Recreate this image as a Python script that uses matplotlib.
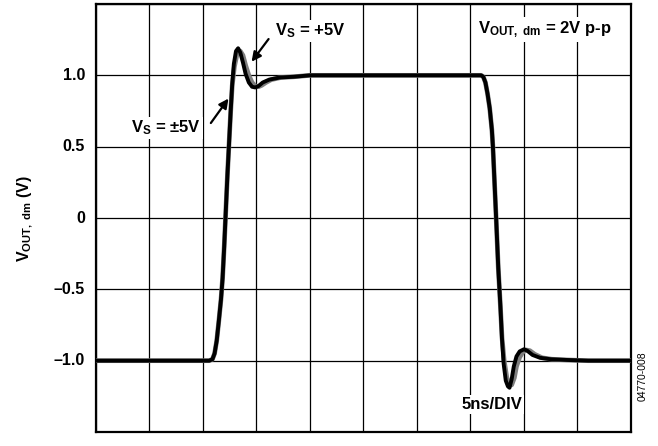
import matplotlib
matplotlib.use("Agg")
import matplotlib.pyplot as plt

# =======================
# dados (tempo em ns, 5 ns/div)
# =======================
t_preto = [0, 5, 10.6, 10.9, 11.1, 11.3, 11.5, 11.7, 11.85, 12.0, 12.15, 12.3, 12.45, 12.6,
           12.75, 12.9, 13.1, 13.3, 13.5, 13.75, 14.0, 14.3, 14.6, 14.9, 15.2, 15.6, 16.2,
           17.2, 18.5, 20, 25, 30, 36.0, 36.2, 36.4, 36.6, 36.8, 37.0, 37.1, 37.25, 37.4,
           37.6, 37.8, 37.95, 38.1, 38.3, 38.5, 38.65, 38.85, 39.05, 39.3, 39.6, 40.0, 40.3,
           40.8, 41.5, 42.5, 44, 46, 50]
v_preto = [-1.0, -1.0, -1.0, -0.99, -0.95, -0.86, -0.72, -0.57, -0.42, -0.2, 0.05, 0.3, 0.52,
           0.74, 0.94, 1.08, 1.17, 1.19, 1.16, 1.09, 1.01, 0.95, 0.92, 0.915, 0.925, 0.95,
           0.97, 0.985, 0.99, 1.0, 1.0, 1.0, 1.0, 0.99, 0.95, 0.87, 0.77, 0.62, 0.5, 0.25,
           0.0, -0.35, -0.62, -0.85, -1.02, -1.14, -1.18, -1.19, -1.13, -1.04, -0.97, -0.935,
           -0.92, -0.93, -0.96, -0.98, -0.99, -0.995, -1.0, -1.0]

t_cinza = [0, 5, 10.6, 10.9, 11.1, 11.3, 11.5, 11.7, 11.85, 12.0, 12.15, 12.3, 12.45, 12.6,
           12.75, 12.95, 13.2, 13.5, 13.75, 14.0, 14.3, 14.6, 14.9, 15.2, 15.5, 15.9, 16.4,
           17.3, 18.5, 20, 25, 30, 36.0, 36.2, 36.4, 36.6, 36.8, 37.0, 37.1, 37.25, 37.4,
           37.6, 37.8, 37.95, 38.15, 38.4, 38.65, 38.85, 39.1, 39.3, 39.6, 39.9, 40.2, 40.55,
           41.0, 41.7, 42.6, 44, 46, 50]
v_cinza = [-1.0, -1.0, -1.0, -0.99, -0.95, -0.86, -0.72, -0.57, -0.42, -0.2, 0.05, 0.3, 0.52,
           0.74, 0.93, 1.06, 1.15, 1.17, 1.14, 1.07, 1.0, 0.95, 0.925, 0.92, 0.93, 0.95,
           0.97, 0.985, 0.99, 1.0, 1.0, 1.0, 1.0, 0.99, 0.95, 0.87, 0.77, 0.62, 0.5, 0.25,
           0.0, -0.35, -0.62, -0.84, -1.0, -1.12, -1.16, -1.17, -1.12, -1.04, -0.975, -0.94,
           -0.925, -0.93, -0.955, -0.98, -0.99, -0.995, -1.0, -1.0]

y_ticks = [-1.0, -0.5, 0, 0.5, 1.0]
y_labels = ["\u20131.0", "\u20130.5", "0", "0.5", "1.0"]

# =======================
# fontes
# =======================
plt.rcParams['font.family'] = ['Liberation Sans', 'DejaVu Sans']
plt.rcParams['font.weight'] = 'bold'
plt.rcParams['mathtext.fontset'] = 'custom'
plt.rcParams['mathtext.rm'] = 'Liberation Sans:bold'
plt.rcParams['mathtext.it'] = 'Liberation Sans:bold:italic'
plt.rcParams['mathtext.bf'] = 'Liberation Sans:bold'

fig = plt.figure(figsize=(6.58, 4.46), dpi=100)
ax = fig.add_axes([0.1455, 0.0314, 0.8135, 0.9596])

ax.set_xlim(0, 50)
ax.set_ylim(-1.5, 1.5)
ax.set_xticks([i * 5 for i in range(11)])
ax.set_yticks([-1.5 + 0.5 * i for i in range(7)])
ax.grid(True, color='black', linewidth=0.9)
ax.tick_params(length=0, labelbottom=False, labelleft=False)
for s in ax.spines.values():
    s.set_linewidth(1.6)

ax.plot(t_cinza, v_cinza, color='#7f7f7f', linewidth=3.4, solid_capstyle='round',
        solid_joinstyle='round', zorder=3)
ax.plot(t_preto, v_preto, color='black', linewidth=2.8, solid_capstyle='round',
        solid_joinstyle='round', zorder=4)

# rotulos do eixo y
for y, lab in zip(y_ticks, y_labels):
    ax.text(-1.0, y, lab, ha='right', va='center', fontsize=11.5, fontweight='bold')

fig.text(0.038, 0.51, r"V$_{\rm OUT,\ dm}$ (V)", rotation=90, ha='center', va='center',
         fontsize=11.5, fontweight='bold')

caixa = dict(facecolor='white', edgecolor='none', pad=1.5)
ax.text(20.0, 1.31, r"V$_{\rm S}$ = +5V", ha='center', va='center', fontsize=12,
        fontweight='bold', bbox=caixa, zorder=5)
ax.text(6.57, 0.63, "V$_{\\rm S}$ = \u00b15V", ha='center',
        va='center', fontsize=12, fontweight='bold', bbox=caixa, zorder=5)
ax.text(41.9, 1.32, r"V$_{\rm OUT,\ dm}$ = 2V p-p", ha='center', va='center', fontsize=12,
        fontweight='bold', bbox=caixa, zorder=5)
ax.text(37.0, -1.31, "5ns/DIV", ha='center', va='center', fontsize=12,
        fontweight='bold', bbox=caixa, zorder=5)

seta = dict(arrowstyle='-|>', color='black', linewidth=1.6, mutation_scale=14)
ax.annotate("", xy=(14.4, 1.08), xytext=(16.3, 1.27), arrowprops=seta, zorder=6)
ax.annotate("", xy=(12.55, 0.853), xytext=(10.6, 0.65), arrowprops=seta, zorder=6)

fig.text(0.977, 0.157, "04770-008", rotation=90, ha='center', va='center',
         fontsize=7.5, fontweight='normal')

fig.savefig("out.png", dpi=100)
